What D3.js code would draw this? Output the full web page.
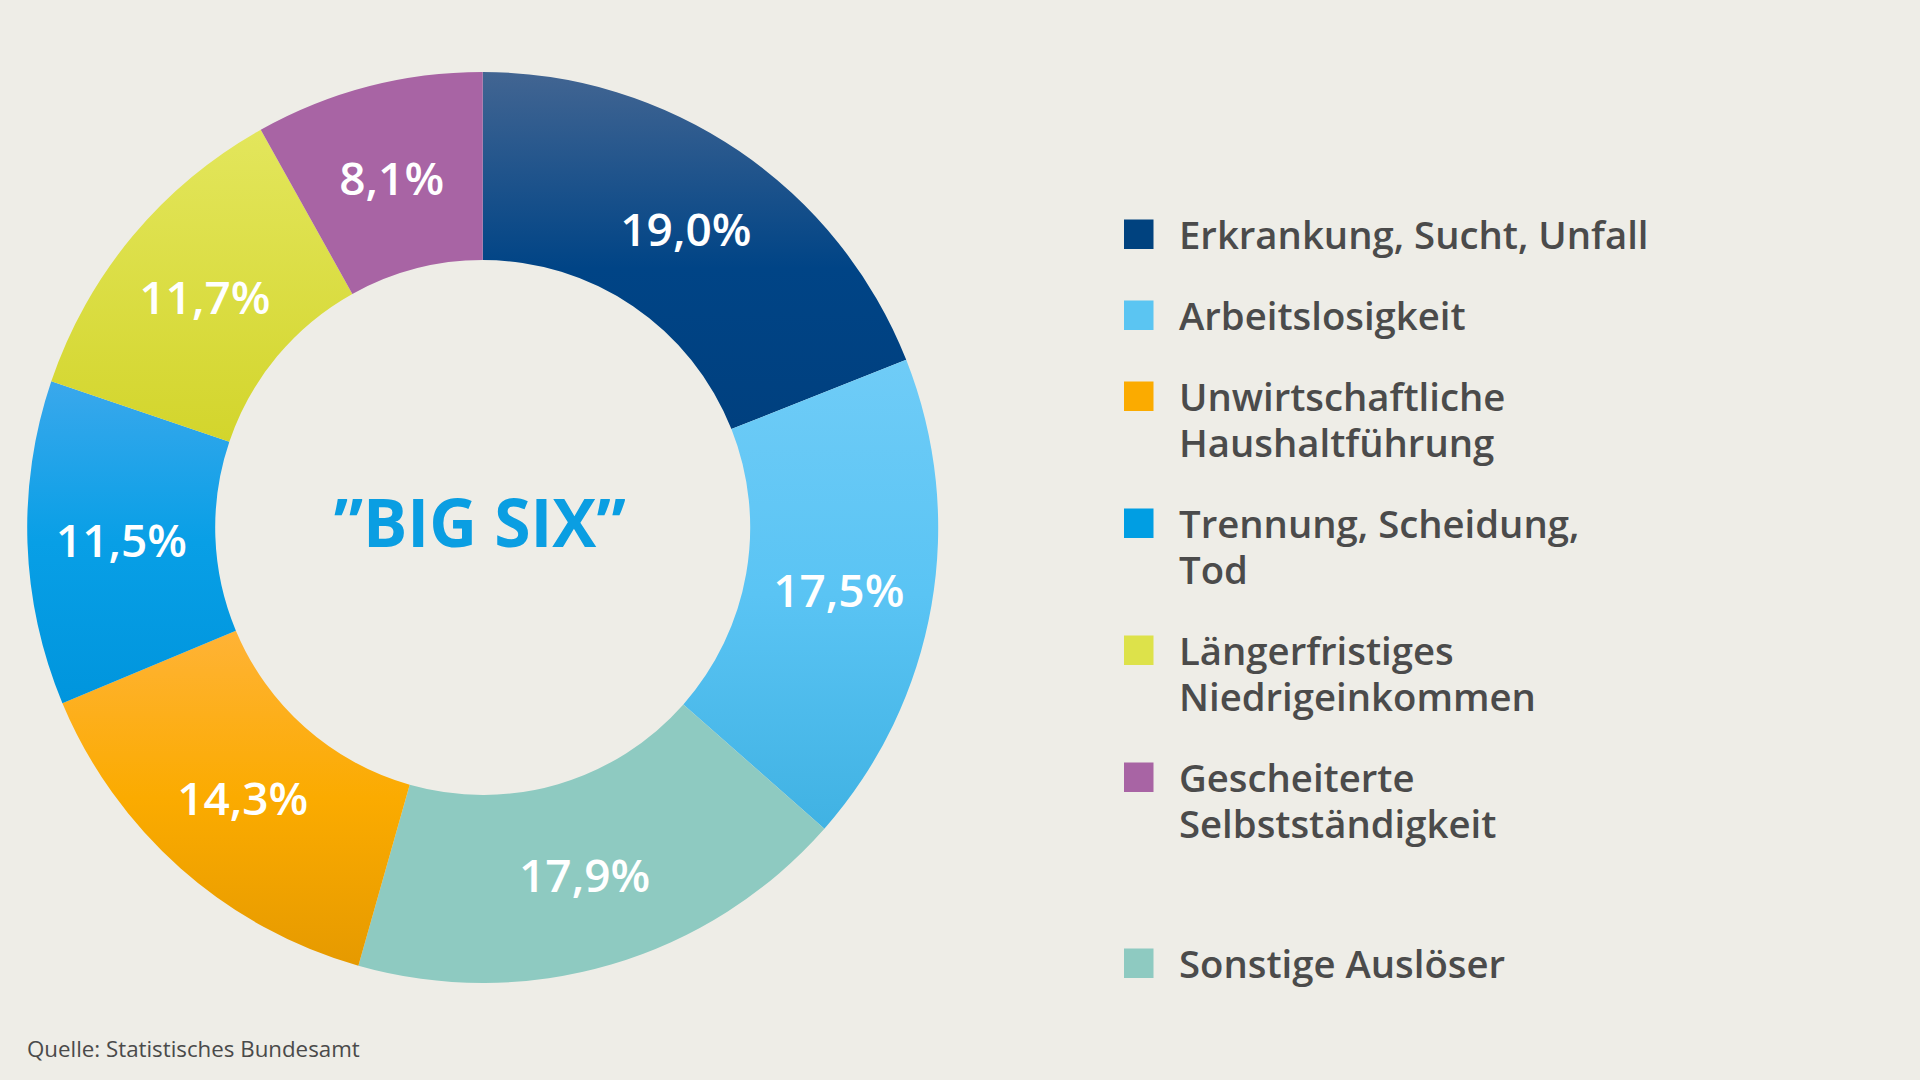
<!DOCTYPE html>
<html>
<head>
<meta charset="utf-8">
<script src="https://cdn.jsdelivr.net/npm/d3@7"></script>
<style>
  html, body { margin: 0; padding: 0; background: #eeede7; }
  svg { display: block; font-family: "Open Sans", sans-serif; }
</style>
</head>
<body>
<svg id="chart" width="1920" height="1080"></svg>
<script>
// Data
// ----
var sliceNames  = ["Erkrankung", "Arbeitslosigkeit", "Sonstige", "Haushalt", "Trennung", "Niedrigeinkommen", "Selbststaendigkeit"];
var sliceValues = [19.0, 17.5, 17.9, 14.3, 11.5, 11.7, 8.1];
var sliceLabels = ["19,0%", "17,5%", "17,9%", "14,3%", "11,5%", "11,7%", "8,1%"];

var legendKeys  = ["Erkrankung", "Arbeitslosigkeit", "Haushalt", "Trennung", "Niedrigeinkommen", "Selbststaendigkeit", "Sonstige"];
var legendLines = [
  ["Erkrankung, Sucht, Unfall"],
  ["Arbeitslosigkeit"],
  ["Unwirtschaftliche", "Haushaltführung"],
  ["Trennung, Scheidung,", "Tod"],
  ["Längerfristiges", "Niedrigeinkommen"],
  ["Gescheiterte", "Selbstständigkeit"],
  ["Sonstige Auslöser"]
];

var centerTitle = "”BIG SIX”";
var sourceText  = "Quelle: Statistisches Bundesamt";

// Colours (flat colour for legend, top/bottom for slice gradient)
var flatColors = {
  Erkrankung: "#00427f", Arbeitslosigkeit: "#5bc5f2", Sonstige: "#8ecac1",
  Haushalt: "#fbab00", Trennung: "#009ee3", Niedrigeinkommen: "#dde24a",
  Selbststaendigkeit: "#a864a4"
};
var gradStops = {
  Erkrankung:         [["0", "#426592"], ["0.55", "#004486"], ["1", "#00407f"]],
  Arbeitslosigkeit:   [["0", "#6fccf7"], ["0.5", "#5ac4f4"], ["1", "#40b2e3"]],
  Sonstige:           [["0", "#8ecac1"], ["1", "#8ecac1"]],
  Haushalt:           [["0", "#ffb336"], ["0.5", "#fbab00"], ["1", "#e69a00"]],
  Trennung:           [["0", "#3aa8ec"], ["0.5", "#089fe6"], ["1", "#0095dd"]],
  Niedrigeinkommen:   [["0", "#e3e65c"], ["1", "#d3d52c"]],
  Selbststaendigkeit: [["0", "#a864a4"], ["1", "#a864a4"]]
};

// Layout
// ------
var svg = d3.select("#chart");
var cx = 482.7, cy = 527.5, outerR = 455.5, innerR = 267.5;

var defs = svg.append("defs");
sliceNames.forEach(function (name) {
  var g = defs.append("linearGradient")
    .attr("id", "grad-" + name)
    .attr("x1", 0).attr("y1", 0).attr("x2", 0).attr("y2", 1);
  gradStops[name].forEach(function (s) {
    g.append("stop").attr("offset", s[0]).attr("stop-color", s[1]);
  });
});

// Donut
// -----
var pie = d3.pie().sort(null).value(function (d) { return d; });
var arc = d3.arc().innerRadius(innerR).outerRadius(outerR);
var arcs = pie(sliceValues);

var donut = svg.append("g").attr("transform", "translate(" + cx + "," + cy + ")");

donut.selectAll(".slice")
  .data(arcs)
  .enter()
  .append("path")
  .attr("class", "slice")
  .attr("d", arc)
  .attr("fill", function (d, i) { return "url(#grad-" + sliceNames[i] + ")"; });

donut.selectAll(".pct")
  .data(arcs)
  .enter()
  .append("text")
  .attr("class", "pct")
  .attr("transform", function (d) { return "translate(" + arc.centroid(d) + ")"; })
  .attr("dy", "0.38em")
  .attr("text-anchor", "middle")
  .attr("fill", "#ffffff")
  .attr("font-size", 46)
  .attr("font-weight", 600)
  .text(function (d, i) { return sliceLabels[i]; });

donut.append("text")
  .attr("x", -3)
  .attr("y", 19)
  .attr("text-anchor", "middle")
  .attr("fill", "#0a9ee2")
  .attr("font-size", 66)
  .attr("font-weight", 700)
  .text(centerTitle);

// Legend
// ------
var legendX = 1124, textX = 1179, lineH = 46, itemGap = 35, box = 29.5;
var legendTop = 249;
var y = legendTop;
var legendPos = legendLines.map(function (lines, i) {
  if (i === legendLines.length - 1) y += 59;   // extra space before "Sonstige"
  var p = y;
  y += lines.length * lineH + itemGap;
  return p;
});

var legend = svg.append("g").attr("class", "legend");
var items = legend.selectAll(".item")
  .data(legendKeys)
  .enter()
  .append("g")
  .attr("class", "item")
  .attr("transform", function (d, i) { return "translate(0," + legendPos[i] + ")"; });

items.append("rect")
  .attr("x", legendX)
  .attr("y", -box)
  .attr("width", box)
  .attr("height", box)
  .attr("fill", function (d) { return flatColors[d]; });

items.append("text")
  .attr("x", textX)
  .attr("fill", "#4b4b4b")
  .attr("font-size", 38.3)
  .attr("font-weight", 600)
  .selectAll("tspan")
  .data(function (d, i) { return legendLines[i]; })
  .enter()
  .append("tspan")
  .attr("x", textX)
  .attr("y", function (d, j) { return j * lineH; })
  .text(function (d) { return d; });

// Source
// ------
svg.append("text")
  .attr("x", 27)
  .attr("y", 1057)
  .attr("fill", "#4a4a4a")
  .attr("font-size", 22.3)
  .text(sourceText);
</script>
</body>
</html>
